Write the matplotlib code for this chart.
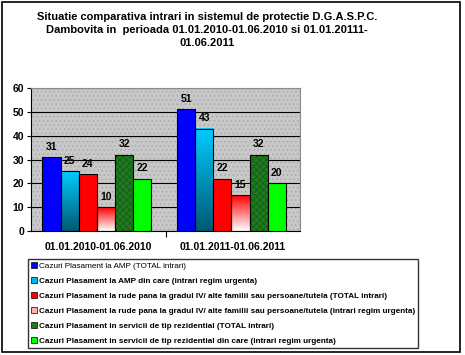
import numpy as np
import matplotlib
matplotlib.use("Agg")
import matplotlib.pyplot as plt
from matplotlib.patches import Rectangle
from matplotlib.lines import Line2D

plt.rcParams['font.family'] = ['Liberation Sans', 'DejaVu Sans']
plt.rcParams['hatch.linewidth'] = 0.4

perioade = ["01.01.2010-01.06.2010", "01.01.2011-01.06.2011"]
serii = [
    "Cazuri Plasament la AMP (TOTAL intrari)",
    "Cazuri Plasament la AMP din care (intrari regim urgenta)",
    "Cazuri Plasament la rude pana la gradul IV/ alte familii sau persoane/tutela (TOTAL intrari)",
    "Cazuri Plasament la rude pana la gradul IV/ alte familii sau persoane/tutela (intrari regim urgenta)",
    "Cazuri Plasament in servicii de tip rezidential (TOTAL intrari)",
    "Cazuri Plasament in servicii de tip rezidential din care (intrari regim urgenta)",
]
valori_2010 = [31, 25, 24, 10, 32, 22]
valori_2011 = [51, 43, 22, 15, 32, 20]
culori = ["#0000ff", "#00b8e8", "#ff0000", "#ffb0b0", "#1e7a1e", "#00ff00"]
titlu = ("Situatie comparativa intrari in sistemul de protectie D.G.A.S.P.C.\n"
         "Dambovita in  perioada 01.01.2010-01.06.2010 si 01.01.20111-\n01.06.2011")

fig = plt.figure(figsize=(4.65, 3.55), dpi=100)
W, H = 465, 355
ax = fig.add_axes([31 / W, 1 - 231 / H, (300 - 31) / W, (231 - 88) / H])

# fundal gri punctat
ax.set_facecolor("#c8c8c8")
ax.add_patch(Rectangle((0, 0), 1, 1, transform=ax.transAxes, facecolor="none",
                       edgecolor="#a0a0a0", hatch="....", lw=0, zorder=0))

# gradienti pentru barele cu degrade
def grad_cyan(n=64):
    t = np.linspace(0, 1, n)[:, None]  # 0 jos, 1 sus
    jos = np.array([0.0, 0.35, 0.45])
    sus = np.array([0.0, 0.8, 1.0])
    return (jos + (sus - jos) * t)[:, None, :].repeat(2, axis=1)

def grad_roz(n=64):
    t = np.linspace(0, 1, n)[:, None]
    jos = np.array([1.0, 1.0, 1.0])
    sus = np.array([1.0, 0.0, 0.0])
    return (jos + (sus - jos) * t)[:, None, :].repeat(2, axis=1)

x = np.arange(len(perioade))
w = 0.135
date = np.array([valori_2010, valori_2011])
for i in range(len(serii)):
    pos = x + (i - 2.5) * w - 0.01
    vals = date[:, i]
    if i == 1 or i == 3:
        for p, v in zip(pos, vals):
            img = grad_cyan() if i == 1 else grad_roz()
            ax.imshow(img, extent=(p - w / 2, p + w / 2, 0, v), origin="lower",
                      aspect="auto", zorder=2, interpolation="bilinear")
        ax.bar(pos, vals, w, facecolor="none", edgecolor="black", lw=0.8, zorder=3)
    elif i == 4:
        ax.bar(pos, vals, w, color=culori[i], edgecolor="#145214", lw=0, zorder=2,
               hatch="xxxxx")
        ax.bar(pos, vals, w, facecolor="none", edgecolor="black", lw=0.8, zorder=3)
    else:
        ax.bar(pos, vals, w, color=culori[i], edgecolor="black", lw=0.8, zorder=3)
    for p, v in zip(pos, vals):
        ax.text(p, v + 2.2, str(v), ha="center", va="bottom", fontsize=7.5,
                fontweight="bold", zorder=4)

ax.set_xlim(-0.5, 1.5)
ax.set_ylim(0, 60)
ax.set_yticks(range(0, 61, 10))
ax.yaxis.grid(True, color="black", lw=0.8, zorder=1)
ax.set_axisbelow(True)
ax.set_xticks(x)
ax.set_xticklabels(perioade, fontsize=7.5, fontweight="bold")
ax.set_xticks([0.5], minor=True)
ax.tick_params(axis="x", which="major", length=0, pad=8)
ax.tick_params(axis="x", which="minor", length=4, width=0.8)
ax.tick_params(axis="y", length=3, width=0.8, labelsize=7.5, pad=2)
for lab in ax.get_yticklabels():
    lab.set_fontweight("bold")
ax.spines["left"].set_color("black")
ax.spines["bottom"].set_color("black")
ax.spines["top"].set_color("#8a8a8a")
ax.spines["right"].set_color("#8a8a8a")

fig.text(207 / W, 1 - 12 / H, titlu, ha="center", va="top", fontsize=8,
         fontweight="bold", linespacing=1.35)

handles = [Line2D([], [], marker="s", ls="none", markersize=4.5,
                  markerfacecolor=c, markeredgecolor="black", markeredgewidth=0.5)
           for c in culori]
leg = fig.legend(handles, serii, loc="upper left",
                 bbox_to_anchor=(28 / W, 1 - 259 / H), fontsize=5.9,
                 frameon=True, fancybox=False, edgecolor="black",
                 handlelength=0.6, handletextpad=0.3, labelspacing=0.88,
                 borderpad=0.4, borderaxespad=0)
leg.get_frame().set_linewidth(1.0)
for k, t in enumerate(leg.get_texts()):
    if k > 0:
        t.set_fontweight("bold")

# chenar exterior
fig.add_artist(Rectangle((2 / W, 1 - 352 / H), 458 / W, 350 / H,
                         transform=fig.transFigure, fill=False,
                         edgecolor="black", lw=1.2))

fig.savefig("out.png", dpi=100)
